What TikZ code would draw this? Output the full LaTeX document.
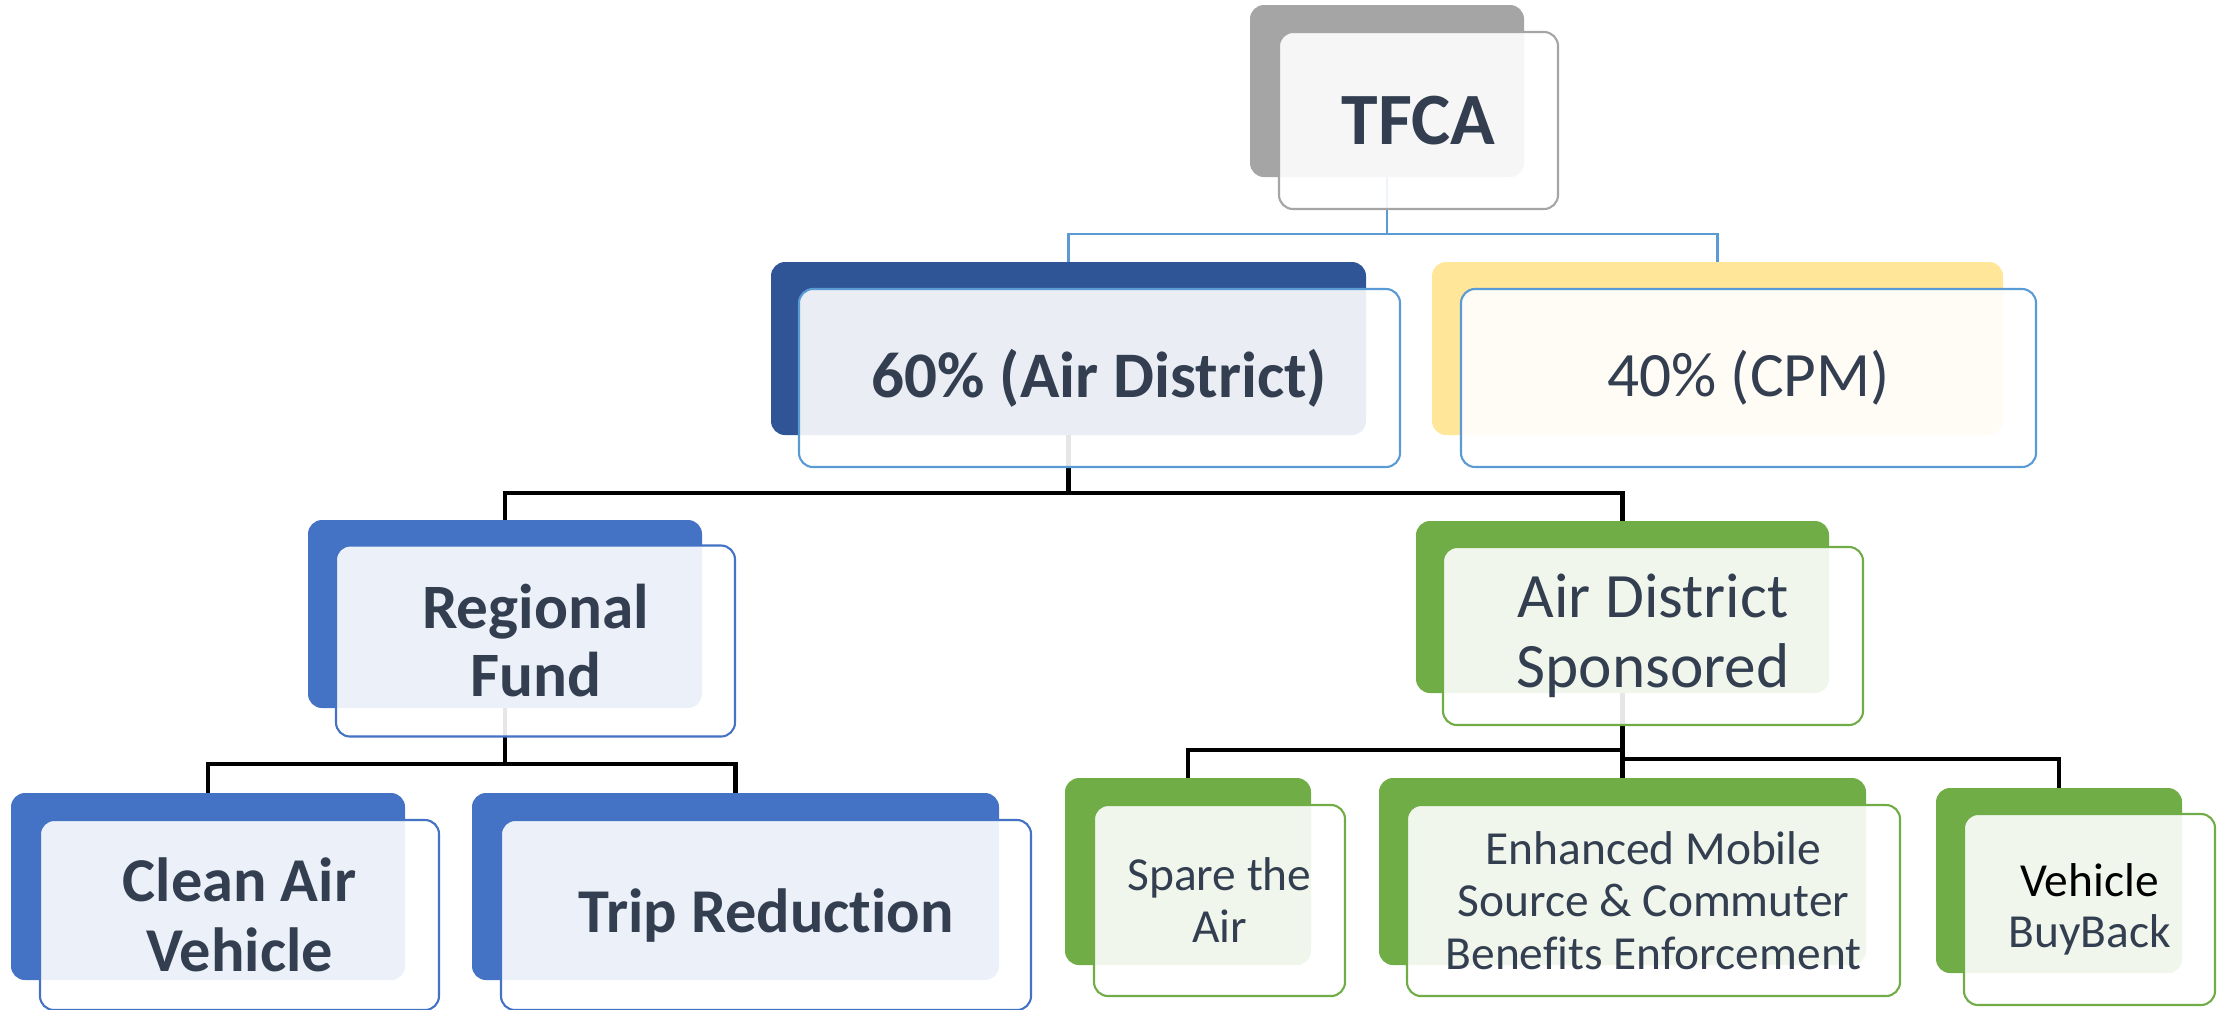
\documentclass[tikz,border=0pt]{standalone}
\usepackage{fontspec}
\setmainfont{Carlito}[Ligatures=NoCommon]
\pgfdeclarelayer{bg}
\pgfsetlayers{bg,main}
\definecolor{txt}{HTML}{333F50}
\definecolor{greyB}{HTML}{A5A5A5}
\definecolor{navyB}{HTML}{2F5597}
\definecolor{yelB}{HTML}{FFE699}
\definecolor{blueB}{HTML}{4472C4}
\definecolor{greenB}{HTML}{70AD47}
\definecolor{lblue}{HTML}{5B9BD5}
\tikzset{
 sz/.style 2 args={minimum width=#1*0.02cm, minimum height=#2*0.02cm},
 back/.style={rectangle, rounded corners=0.28cm, fill=#1, draw=none, inner sep=0pt, outer sep=0pt},
 front/.style={rectangle, rounded corners=0.28cm, fill=white, fill opacity=0.9, text opacity=1, draw=#1, draw opacity=1, line width=1.2pt, inner sep=0pt, outer sep=0pt, align=center, text=txt},
 bline/.style={draw=lblue, line width=1.2pt},
 kline/.style={draw=black, line width=2.5pt},
}
\begin{document}
\begin{tikzpicture}[x=0.02cm,y=-0.02cm]
\useasboundingbox (0,0) rectangle (2227,1009);
% TFCA
\node[back=greyB, sz={274}{172}] (tfcaB) at (1387,91) {};
\node[front=greyB, sz={279}{177}, font=\fontsize{42}{46}\selectfont\bfseries] (tfcaF) at (1418.5,120.5) {TFCA};
% 60%
\node[back=navyB, sz={595}{173}] (pctAB) at (1068.5,348.5) {};
\node[front=lblue, sz={601}{178}, font=\fontsize{37}{40}\selectfont\bfseries] (pctAF) at (1099.5,378) {60\% (Air District)};
% 40%
\node[back=yelB, sz={571}{173}] (pctBB) at (1717.5,348.5) {};
\node[front=lblue, sz={575}{178}, font=\fontsize{36}{40}\selectfont] (pctBF) at (1748.5,378) {40\% (CPM)};
% Regional Fund
\node[back=blueB, sz={394}{188}] (regB) at (505,614) {};
\node[front=blueB, sz={399}{191}, font=\fontsize{36}{38.7}\selectfont\bfseries] (regF) at (535.5,641) {Regional\\Fund};
% Air District Sponsored
\node[back=greenB, sz={413}{172}] (adB) at (1622.5,607) {};
\node[front=greenB, sz={420}{178}, font=\fontsize{36}{39.8}\selectfont] (adF) at (1653,636) {Air District\\Sponsored};
% Clean Air Vehicle
\node[back=blueB, sz={394}{187}] (cavB) at (208,886.5) {};
\node[front=blueB, sz={399}{190}, font=\fontsize{35.5}{40}\selectfont\bfseries] (cavF) at (239.5,915) {Clean Air\\Vehicle};
% Trip Reduction
\node[back=blueB, sz={527}{187}] (tripB) at (735.5,886.5) {};
\node[front=blueB, sz={530}{190}, font=\fontsize{35.5}{40}\selectfont\bfseries] (tripF) at (766,915) {Trip Reduction};
% Spare the Air
\node[back=greenB, sz={246}{187}] (spareB) at (1188,871.5) {};
\node[front=greenB, sz={251}{191}, font=\fontsize{27}{29.6}\selectfont] (spareF) at (1219.5,900.5) {Spare the\\Air};
% Enhanced
\node[back=greenB, sz={487}{187}] (enhB) at (1622.5,871.5) {};
\node[front=greenB, sz={493}{191}, font=\fontsize{27}{30}\selectfont] (enhF) at (1653.5,900.5) {Enhanced Mobile\\Source \& Commuter\\Benefits Enforcement};
% Vehicle BuyBack
\node[back=greenB, sz={246}{185}] (vehB) at (2059,880.5) {};
\node[front=greenB, sz={251}{191}, font=\fontsize{27}{29}\selectfont] (vehF) at (2089.5,909.5) {{\color{black}Vehicle}\\BuyBack};
% connectors
\begin{pgfonlayer}{bg}
\coordinate (b1) at (1387,234);
\draw[bline] (tfcaB.center) -- (b1) -| (pctAB.north);
\draw[bline] (b1) -| (pctBB.north);
\coordinate (b2) at (1068.5,493);
\draw[kline] (pctAB.center) -- (b2) -| (regB.north);
\draw[kline] (b2) -| (adB.north);
\coordinate (b3) at (505,764);
\draw[kline] (regB.center) -- (b3) -| (cavB.north);
\draw[kline] (b3) -| (tripB.north);
\draw[kline] (adB.center) -- (enhB.north);
\coordinate (b4) at (1622.5,750);
\coordinate (b5) at (1622.5,759);
\draw[kline] (b4) -| (spareB.north);
\draw[kline] (b5) -| (vehB.north);
\end{pgfonlayer}
\end{tikzpicture}
\end{document}
